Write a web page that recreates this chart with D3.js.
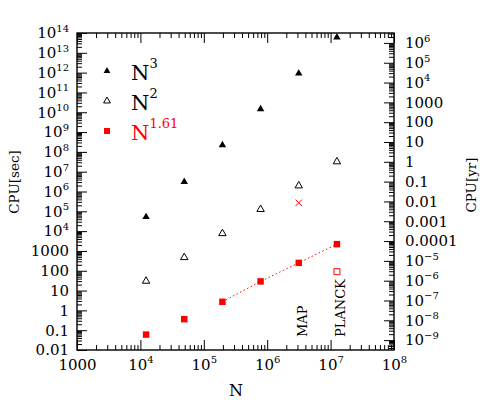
<!DOCTYPE html>
<html>
<head>
<meta charset="utf-8">
<script src="https://cdn.jsdelivr.net/npm/d3@7"></script>
<style>
  body { margin: 0; background: #fff; }
  svg text { font-family: "DejaVu Serif", serif; fill: #000; }
</style>
</head>
<body>
<div id="chart"></div>
<script>
// pixel counts N (HEALPix maps) and CPU time in seconds
const nValues = [12288, 49152, 196608, 786432, 3145728, 12582912];
const cpuN3 = [5.2e4, 3.1e6, 2.2e8, 1.45e10, 9.1e11, 6.0e13];
const cpuN2 = [30, 470, 7600, 1.26e5, 1.95e6, 3.2e7];
const cpuN161 = [0.06, 0.36, 2.7, 29, 250, 2200];
const fitFrom = 2; // dotted N^1.61 line starts at this point
const mapPoint = {n: 3145728, cpu: 2.7e5, label: 'MAP'};
const planckPoint = {n: 12582912, cpu: 90, label: 'PLANCK'};
const legendLabels = [['N', '3'], ['N', '2'], ['N', '1.61']];
const secPerYear = 3.156e7;

let width = 491, height = 409;
let margin = {top: 33, right: 97, bottom: 59, left: 77};
let plotW = width - margin.left - margin.right;
let plotH = height - margin.top - margin.bottom;

let svg = d3.select('#chart').append('svg')
    .attr('width', width)
    .attr('height', height);

let x = d3.scaleLog().domain([1000, 1e8]).range([0, plotW]);
let y = d3.scaleLog().domain([0.01, 1e14]).range([plotH, 0]);
let yYr = d3.scaleLog().domain([0.01 / secPerYear, 1e14 / secPerYear]).range([plotH, 0]);

let g = svg.append('g')
    .attr('transform', 'translate(' + margin.left + ',' + margin.top + ')');

function decades(lo, hi) {
    let out = [];
    for (let e = Math.ceil(Math.log10(lo) - 1e-9); e <= Math.floor(Math.log10(hi) + 1e-9); e++) out.push(Math.pow(10, e));
    return out;
}
function minors(lo, hi) {
    let out = [];
    for (let e = Math.floor(Math.log10(lo)); e <= Math.ceil(Math.log10(hi)); e++) {
        for (let m = 2; m <= 9; m++) {
            let v = m * Math.pow(10, e);
            if (v >= lo && v <= hi) out.push(v);
        }
    }
    return out;
}

// label as plain number for 0.0001..1000, otherwise 10 with superscript
function fancyLabel(sel) {
    sel.each(function(d) {
        let t = d3.select(this);
        let e = Math.round(Math.log10(d));
        t.text(null);
        if (e >= -4 && e <= 3) {
            t.text(e >= 0 ? String(Math.pow(10, e)) : (Math.pow(10, e)).toFixed(-e));
        } else {
            t.append('tspan').text('10');
            t.append('tspan')
                .attr('font-size', '10px')
                .attr('dy', '-0.65em')
                .text(e < 0 ? '\u2212' + (-e) : String(e));
        }
    });
}

function drawAxis(axisFn, scale, lo, hi, transform, pad) {
    let major = g.append('g').attr('transform', transform)
        .call(axisFn(scale).tickValues(decades(lo, hi)).tickSizeInner(-10).tickSizeOuter(0).tickPadding(pad).tickFormat(d => d));
    major.select('.domain').remove();
    major.selectAll('text').attr('font-size', '15px').call(fancyLabel);
    let minor = g.append('g').attr('transform', transform)
        .call(axisFn(scale).tickValues(minors(lo, hi)).tickSizeInner(-5).tickSizeOuter(0).tickFormat(''));
    minor.select('.domain').remove();
    return major;
}

drawAxis(d3.axisLeft, y, 0.01, 1e14, null, 8);
drawAxis(d3.axisBottom, x, 1000, 1e8, 'translate(0,' + plotH + ')', 9);
let topAxis = drawAxis(d3.axisTop, x, 1000, 1e8, null, 0);
topAxis.selectAll('text').remove();
drawAxis(d3.axisRight, yYr, yYr.domain()[0], yYr.domain()[1], 'translate(' + plotW + ',0)', 11);

g.selectAll('.tick line').attr('stroke', '#000').attr('stroke-width', 1);

g.append('rect')
    .attr('width', plotW).attr('height', plotH)
    .attr('fill', 'none').attr('stroke', '#000').attr('stroke-width', 1.4);

// dotted fit line
let line = d3.line().x(d => x(d[0])).y(d => y(d[1]));
g.append('path')
    .datum(nValues.map((n, i) => [n, cpuN161[i]]).slice(fitFrom))
    .attr('d', line)
    .attr('fill', 'none')
    .attr('stroke', '#ff0000')
    .attr('stroke-width', 1)
    .attr('stroke-dasharray', '1.5,2.5');

let tri = d3.symbol().type(d3.symbolTriangle);
let sq = d3.symbol().type(d3.symbolSquare);

g.selectAll('.n3').data(cpuN3).enter().append('path')
    .attr('d', tri.size(24)())
    .attr('transform', (d, i) => 'translate(' + x(nValues[i]) + ',' + y(d) + ')')
    .attr('fill', '#000');

g.selectAll('.n2').data(cpuN2).enter().append('path')
    .attr('d', tri.size(24)())
    .attr('transform', (d, i) => 'translate(' + x(nValues[i]) + ',' + y(d) + ')')
    .attr('fill', 'none').attr('stroke', '#000').attr('stroke-width', 1);

g.selectAll('.n161').data(cpuN161).enter().append('path')
    .attr('d', sq.size(42)())
    .attr('transform', (d, i) => 'translate(' + x(nValues[i]) + ',' + y(d) + ')')
    .attr('fill', '#ff0000');

let cross = d3.symbol().type(d3.symbolTimes || d3.symbolX).size(28);
g.append('path')
    .attr('d', cross())
    .attr('transform', 'translate(' + x(mapPoint.n) + ',' + y(mapPoint.cpu) + ')')
    .attr('fill', 'none').attr('stroke', '#ff0000').attr('stroke-width', 1);

g.append('path')
    .attr('d', sq.size(36)())
    .attr('transform', 'translate(' + x(planckPoint.n) + ',' + y(planckPoint.cpu) + ')')
    .attr('fill', 'none').attr('stroke', '#ff0000').attr('stroke-width', 1);

// mission labels
[[mapPoint, 307 - margin.left], [planckPoint, 345 - margin.left]].forEach(function(p) {
    g.append('text')
        .attr('transform', 'translate(' + p[1] + ',' + (337 - margin.top) + ') rotate(-90)')
        .attr('font-size', '13px')
        .text(p[0].label);
});

// legend
let legend = svg.append('g');
let legendY = [71, 101, 131];
legendLabels.forEach(function(lab, i) {
    let color = i === 2 ? '#ff0000' : '#000';
    let m = legend.append('path').attr('transform', 'translate(107,' + legendY[i] + ')');
    if (i === 0) m.attr('d', tri.size(20)()).attr('fill', '#000');
    if (i === 1) m.attr('d', tri.size(20)()).attr('fill', 'none').attr('stroke', '#000');
    if (i === 2) m.attr('d', sq.size(36)()).attr('fill', '#ff0000');
    let t = legend.append('text')
        .attr('x', 131).attr('y', legendY[i] + 9)
        .attr('font-size', '21px')
        .style('fill', color);
    t.append('tspan').text(lab[0]);
    t.append('tspan').attr('font-size', '13px').attr('dy', '-0.9em').text(lab[1]);
});

// axis titles
svg.append('text')
    .attr('x', 236).attr('y', 396)
    .attr('text-anchor', 'middle')
    .attr('font-size', '16px')
    .text('N');
svg.append('text')
    .attr('transform', 'translate(19,182) rotate(-90)')
    .attr('text-anchor', 'middle')
    .attr('font-size', '13.5px')
    .text('CPU[sec]');
svg.append('text')
    .attr('transform', 'translate(476,185) rotate(-90)')
    .attr('text-anchor', 'middle')
    .attr('font-size', '13.5px')
    .text('CPU[yr]');
</script>
</body>
</html>
